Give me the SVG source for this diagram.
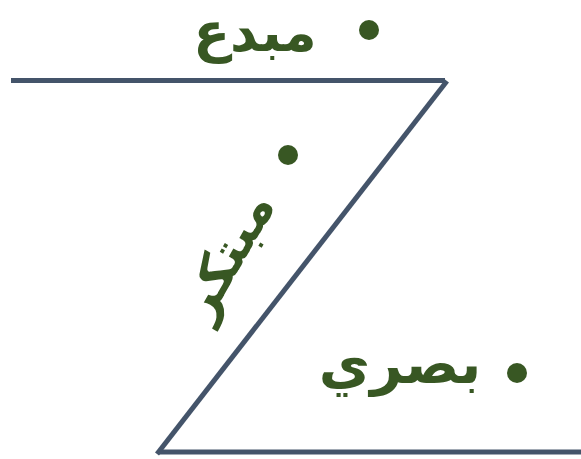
<svg xmlns="http://www.w3.org/2000/svg" width="581" height="459" viewBox="0 0 581 459">
<style>
.ln{stroke:#44546A;stroke-width:5;fill:none;stroke-linecap:butt}
.t{font-family:"DejaVu Sans",sans-serif;font-weight:bold;fill:#385723;text-anchor:middle}
.b{fill:#385723}
</style>
<rect width="581" height="459" fill="#fff"/>
<g id="connectors">
<line class="ln" x1="11" y1="80.5" x2="445" y2="80.5"/>
<line class="ln" x1="447" y1="81" x2="157" y2="454"/>
<line class="ln" x1="158" y1="452" x2="581" y2="452"/>
</g>
<g id="node-mubdi">
<circle class="b" cx="369" cy="30" r="10"/>
<text class="t" x="255" y="51" font-size="54">مبدع</text>
</g>
<g id="node-mubtakir">
<circle class="b" cx="288" cy="155" r="10"/>
<text class="t" x="0" y="0" font-size="52" transform="translate(242,264) rotate(-60)">مبتكر</text>
</g>
<g id="node-basari">
<circle class="b" cx="517" cy="373" r="10"/>
<text class="t" x="400" y="383" font-size="56">بصري</text>
</g>
</svg>
